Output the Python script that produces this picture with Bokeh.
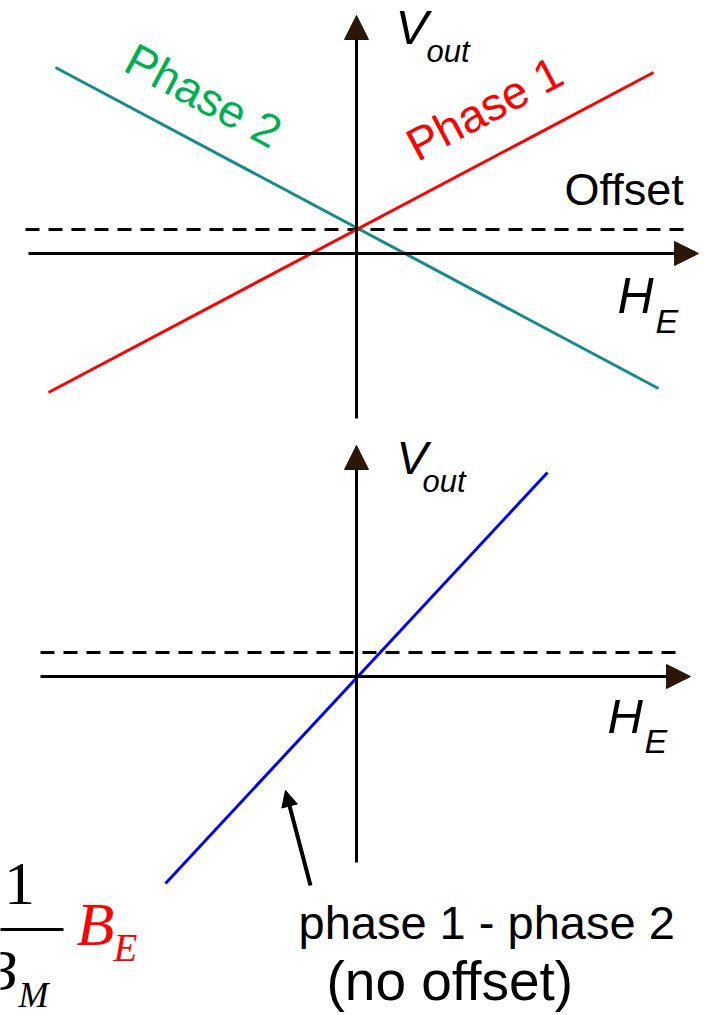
from bokeh.plotting import figure
from bokeh.models import Range1d, Arrow, NormalHead
from bokeh.layouts import column
from bokeh.core.properties import value
from bokeh.embed import file_html
from bokeh.resources import INLINE

# ---- values (arbitrary units of the field H_E and output V_out) ----
offset_level = 0.24                    # sensor offset seen in both phases

phase1_h = [-3.08, 2.97]               # Phase 1: rising response
phase1_v = [-1.39, 1.81]
phase2_h = [-3.01, 3.02]               # Phase 2: falling response
phase2_v = [1.86, -1.35]

diff_h = [-1.91, 1.91]                 # phase 1 - phase 2 (offset cancels)
diff_v = [-2.07, 2.04]

top_labels = ["Phase 1", "Phase 2", "Offset"]
bottom_labels = ["phase 1 - phase 2", "(no offset)"]

SANS = value("Liberation Sans")
SERIF = value("Liberation Serif")
HEAD = "#2b1707"
RED = "#ff0000"
TEAL = "#168a8c"
GREEN = "#00b050"
BLUE = "#0000ff"

PX_PER_UNIT = 100.0   # both panels use 100 screen pixels per data unit


def make_panel(height, y_lo, y_hi):
    p = figure(width=707, height=height,
               x_range=Range1d(-3.56, 3.51), y_range=Range1d(y_lo, y_hi),
               output_backend="svg", toolbar_location=None,
               x_axis_location=None, y_axis_location=None,
               min_border=0, outline_line_color=None)
    p.grid.visible = False
    p.background_fill_color = "white"
    p.border_fill_color = "white"
    return p


def axis_arrow(p, x0, y0, x1, y1):
    p.add_layout(Arrow(end=NormalHead(size=24, fill_color=HEAD, line_color=HEAD, line_width=1),
                       x_start=x0, y_start=y0, x_end=x1, y_end=y1,
                       line_width=3, line_color="black"))


def label(p, x, y, txt, size, color="black", font=SANS, style="normal",
          align="left", angle=0, centred=False):
    # y is the text baseline unless centred; anchor on the em-box middle
    if not centred:
        y = y + 0.35 * size / PX_PER_UNIT
    p.text(x=[x], y=[y], text=[txt], text_font=font, text_font_size=f"{size}px",
           text_font_style=style, text_color=color, text_align=align,
           text_baseline="middle", angle=angle, angle_units="deg")


# ---------------- upper panel: the two phases ----------------
top = make_panel(425, -1.72, 2.53)

top.line([-3.31, 3.34], [offset_level, offset_level], line_color="black",
         line_width=3, line_dash="14 9")
axis_arrow(top, -3.28, 0, 3.42, 0)
axis_arrow(top, 0, -1.65, 0, 2.38)

top.line(phase2_h, phase2_v, line_color=TEAL, line_width=3)
top.line(phase1_h, phase1_v, line_color=RED, line_width=3)

label(top, 0.39, 2.09, "V", 49, style="italic")
label(top, 0.70, 1.91, "out", 31, style="italic")
label(top, 2.61, -0.60, "H", 50, style="italic")
label(top, 2.99, -0.79, "E", 34, style="italic")
label(top, 2.08, 0.48, top_labels[2], 45)
label(top, 1.28, 1.45, top_labels[0], 46, color=RED, align="center",
      angle=28, centred=True)
label(top, -1.53, 1.58, top_labels[1], 46, color=GREEN, align="center",
      angle=-28, centred=True)

# ---------------- lower panel: difference of the phases ----------------
bot = make_panel(590, -3.39, 2.51)

bot.line([-3.16, 3.22], [offset_level, offset_level], line_color="black",
         line_width=3, line_dash="14 9")
axis_arrow(bot, -3.16, 0, 3.34, 0)
axis_arrow(bot, 0, -1.86, 0, 2.31)

bot.line(diff_h, diff_v, line_color=BLUE, line_width=3)

bot.add_layout(Arrow(end=NormalHead(size=16, fill_color="black", line_color="black"),
                     x_start=-0.46, y_start=-2.09, x_end=-0.71, y_end=-1.14,
                     line_width=4, line_color="black"))

label(bot, 0.40, 2.03, "V", 47, style="italic")
label(bot, 0.66, 1.84, "out", 31, style="italic")
label(bot, 2.51, -0.57, "H", 49, style="italic")
label(bot, 2.88, -0.76, "E", 34, style="italic")
label(bot, -0.58, -2.62, bottom_labels[0], 47)
label(bot, -0.30, -3.24, bottom_labels[1], 55)

# scaling factor 1/B_M times B_E
label(bot, -3.37, -2.29, "1", 62, font=SERIF, align="center")
bot.line([-3.60, -2.93], [-2.53, -2.53], line_color="black", line_width=3)
label(bot, -3.40, -3.14, "B", 56, font=SERIF, style="italic", align="right")
label(bot, -3.38, -3.31, "M", 36, font=SERIF, style="italic")
label(bot, -2.80, -2.69, "B", 62, color=RED, font=SERIF, style="italic")
label(bot, -2.43, -2.85, "E", 39, color=RED, font=SERIF, style="italic")

layout = column(top, bot, spacing=0)
open("out.html", "w").write(file_html(layout, INLINE))
